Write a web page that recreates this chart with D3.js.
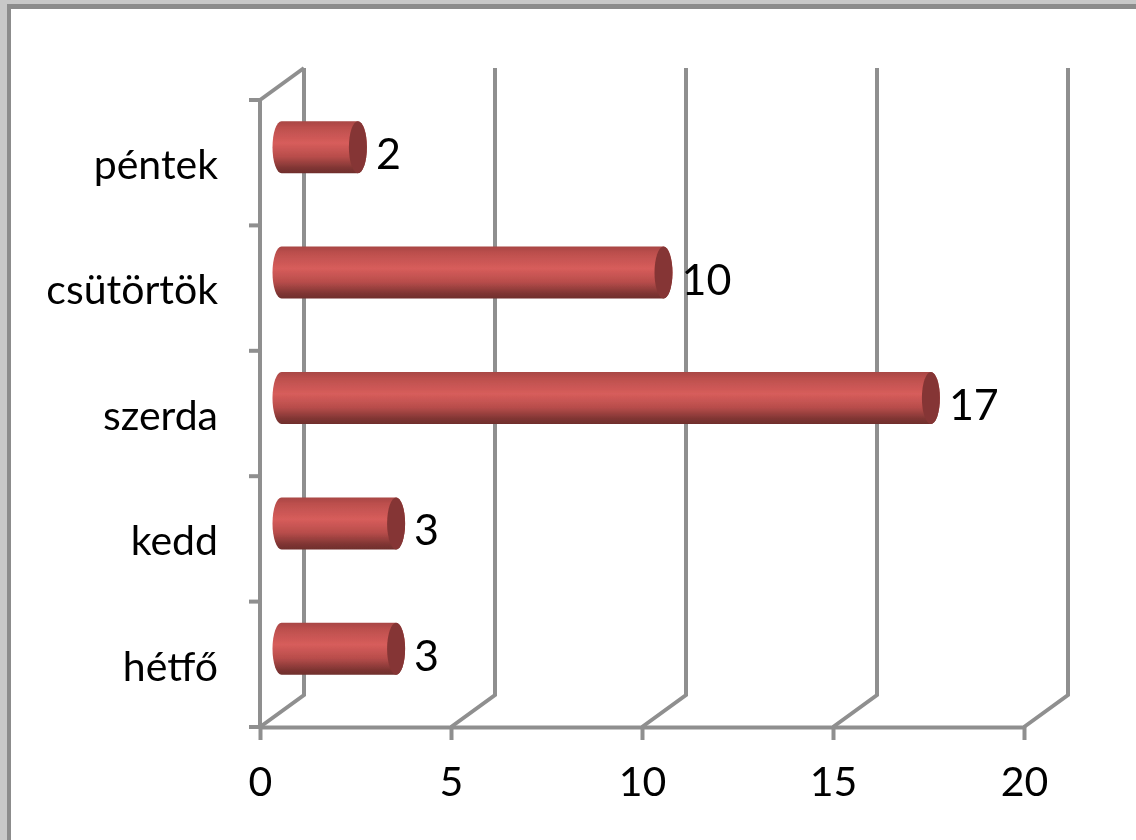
<!DOCTYPE html>
<html>
<head>
<meta charset="utf-8">
<script src="https://d3js.org/d3.v7.min.js"></script>
<style>
  html, body { margin: 0; padding: 0; background: #fff; overflow: hidden; }
  text { font-family: Lato, "Open Sans", sans-serif; fill: #000; }
</style>
</head>
<body>
<div id="chart"></div>
<script>
// data
var days = ["hétfő", "kedd", "szerda", "csütörtök", "péntek"];
var counts = [3, 3, 17, 10, 2];
var xTicks = [0, 5, 10, 15, 20];

var width = 1136, height = 840;
var depthX = 44, depthY = -32; // back wall offset
var capRx = 9;
var barHeight = 52;
var axisColor = "#8f8f8f";
var axisWidth = 4;

var svg = d3.select("#chart").append("svg")
    .attr("width", width)
    .attr("height", height);

var defs = svg.append("defs");

var blur = defs.append("filter").attr("id", "soft");
blur.append("feGaussianBlur").attr("stdDeviation", 0.65);

var grad = defs.append("linearGradient")
    .attr("id", "barFill")
    .attr("x1", 0).attr("y1", 0).attr("x2", 0).attr("y2", 1);
grad.selectAll("stop")
    .data([[0, "#a84644"], [0.12, "#bc4f4d"], [0.42, "#d75d5b"], [0.68, "#b84d4b"], [0.9, "#7f3533"], [1, "#6f2e2c"]])
    .enter().append("stop")
    .attr("offset", function(d) { return d[0]; })
    .attr("stop-color", function(d) { return d[1]; });

// screenshot frame round the chart
var frame = svg.append("g");
frame.append("rect").attr("width", width).attr("height", height).attr("fill", "#c8c8c8");
frame.append("rect").attr("x", 7).attr("y", 4).attr("width", width - 7).attr("height", height - 4).attr("fill", "#8c8c8c");
frame.append("rect").attr("x", 11).attr("y", 9).attr("width", width - 11).attr("height", height - 9).attr("fill", "#fff");

var x = d3.scaleLinear().domain([0, 20]).range([260, 1024]);
var y = d3.scaleBand().domain(days).range([727, 100]);

var g = svg.append("g").attr("filter", "url(#soft)");

// back wall gridlines with their floor diagonals
var grid = g.append("g").selectAll("path")
    .data(xTicks)
    .enter().append("path")
    .attr("fill", "none")
    .attr("stroke", axisColor)
    .attr("stroke-width", axisWidth)
    .attr("d", function(d) {
      var px = x(d);
      return "M" + px + "," + 727 + "L" + (px + depthX) + "," + (727 + depthY) + "V" + (100 + depthY);
    });

// side wall top diagonal
g.append("line")
    .attr("x1", x(0)).attr("y1", 100)
    .attr("x2", x(0) + depthX).attr("y2", 100 + depthY)
    .attr("stroke", axisColor).attr("stroke-width", axisWidth);

// value axis
var xAxis = g.append("g").attr("transform", "translate(0,727)")
    .call(d3.axisBottom(x).tickValues(xTicks).tickSize(13).tickPadding(27).tickSizeOuter(0));
xAxis.select(".domain").attr("stroke", axisColor).attr("stroke-width", axisWidth);
xAxis.selectAll("line").attr("stroke", axisColor).attr("stroke-width", axisWidth);
xAxis.selectAll("text")
    .attr("font-size", 41)
    .attr("font-family", null)
    .attr("fill", null);

// category axis
var yLine = g.append("g");
yLine.append("line")
    .attr("x1", x(0)).attr("x2", x(0))
    .attr("y1", 100).attr("y2", 727)
    .attr("stroke", axisColor).attr("stroke-width", axisWidth);
yLine.selectAll(".tick")
    .data(d3.range(days.length + 1))
    .enter().append("line")
    .attr("class", "tick")
    .attr("x1", x(0) - 11).attr("x2", x(0))
    .attr("y1", function(i) { return i === days.length ? 100 : y(days[i]) + y.bandwidth(); })
    .attr("y2", function(i) { return i === days.length ? 100 : y(days[i]) + y.bandwidth(); })
    .attr("stroke", axisColor).attr("stroke-width", axisWidth);

g.append("g").selectAll("text")
    .data(days)
    .enter().append("text")
    .attr("x", 218)
    .attr("y", function(d) { return y(d) + y.bandwidth() / 2 + 2; })
    .attr("dy", "0.35em")
    .attr("text-anchor", "end")
    .attr("font-size", 41)
    .text(function(d) { return d; });

// cylinders sit halfway into the depth
var midX = 21.5, midY = -15.5;

var bars = g.append("g").selectAll("g")
    .data(days)
    .enter().append("g")
    .attr("transform", function(d) {
      return "translate(0," + (y(d) + y.bandwidth() / 2 + midY) + ")";
    });

bars.append("path")
    .attr("fill", "url(#barFill)")
    .attr("d", function(d, i) {
      var x0 = x(0) + midX, x1 = x(counts[i]) + midX, h = barHeight / 2;
      return "M" + x0 + "," + (-h) + "H" + x1 +
        "A" + capRx + "," + h + " 0 0 1 " + x1 + "," + h +
        "H" + x0 +
        "A" + capRx + "," + h + " 0 0 1 " + x0 + "," + (-h) + "Z";
    });

bars.append("ellipse")
    .attr("cx", function(d, i) { return x(counts[i]) + midX; })
    .attr("rx", capRx)
    .attr("ry", barHeight / 2)
    .attr("fill", "#853634");

bars.append("text")
    .attr("x", function(d, i) { return x(counts[i]) + midX + 18; })
    .attr("y", 7)
    .attr("dy", "0.35em")
    .attr("font-size", 43)
    .text(function(d, i) { return counts[i]; });
</script>
</body>
</html>
